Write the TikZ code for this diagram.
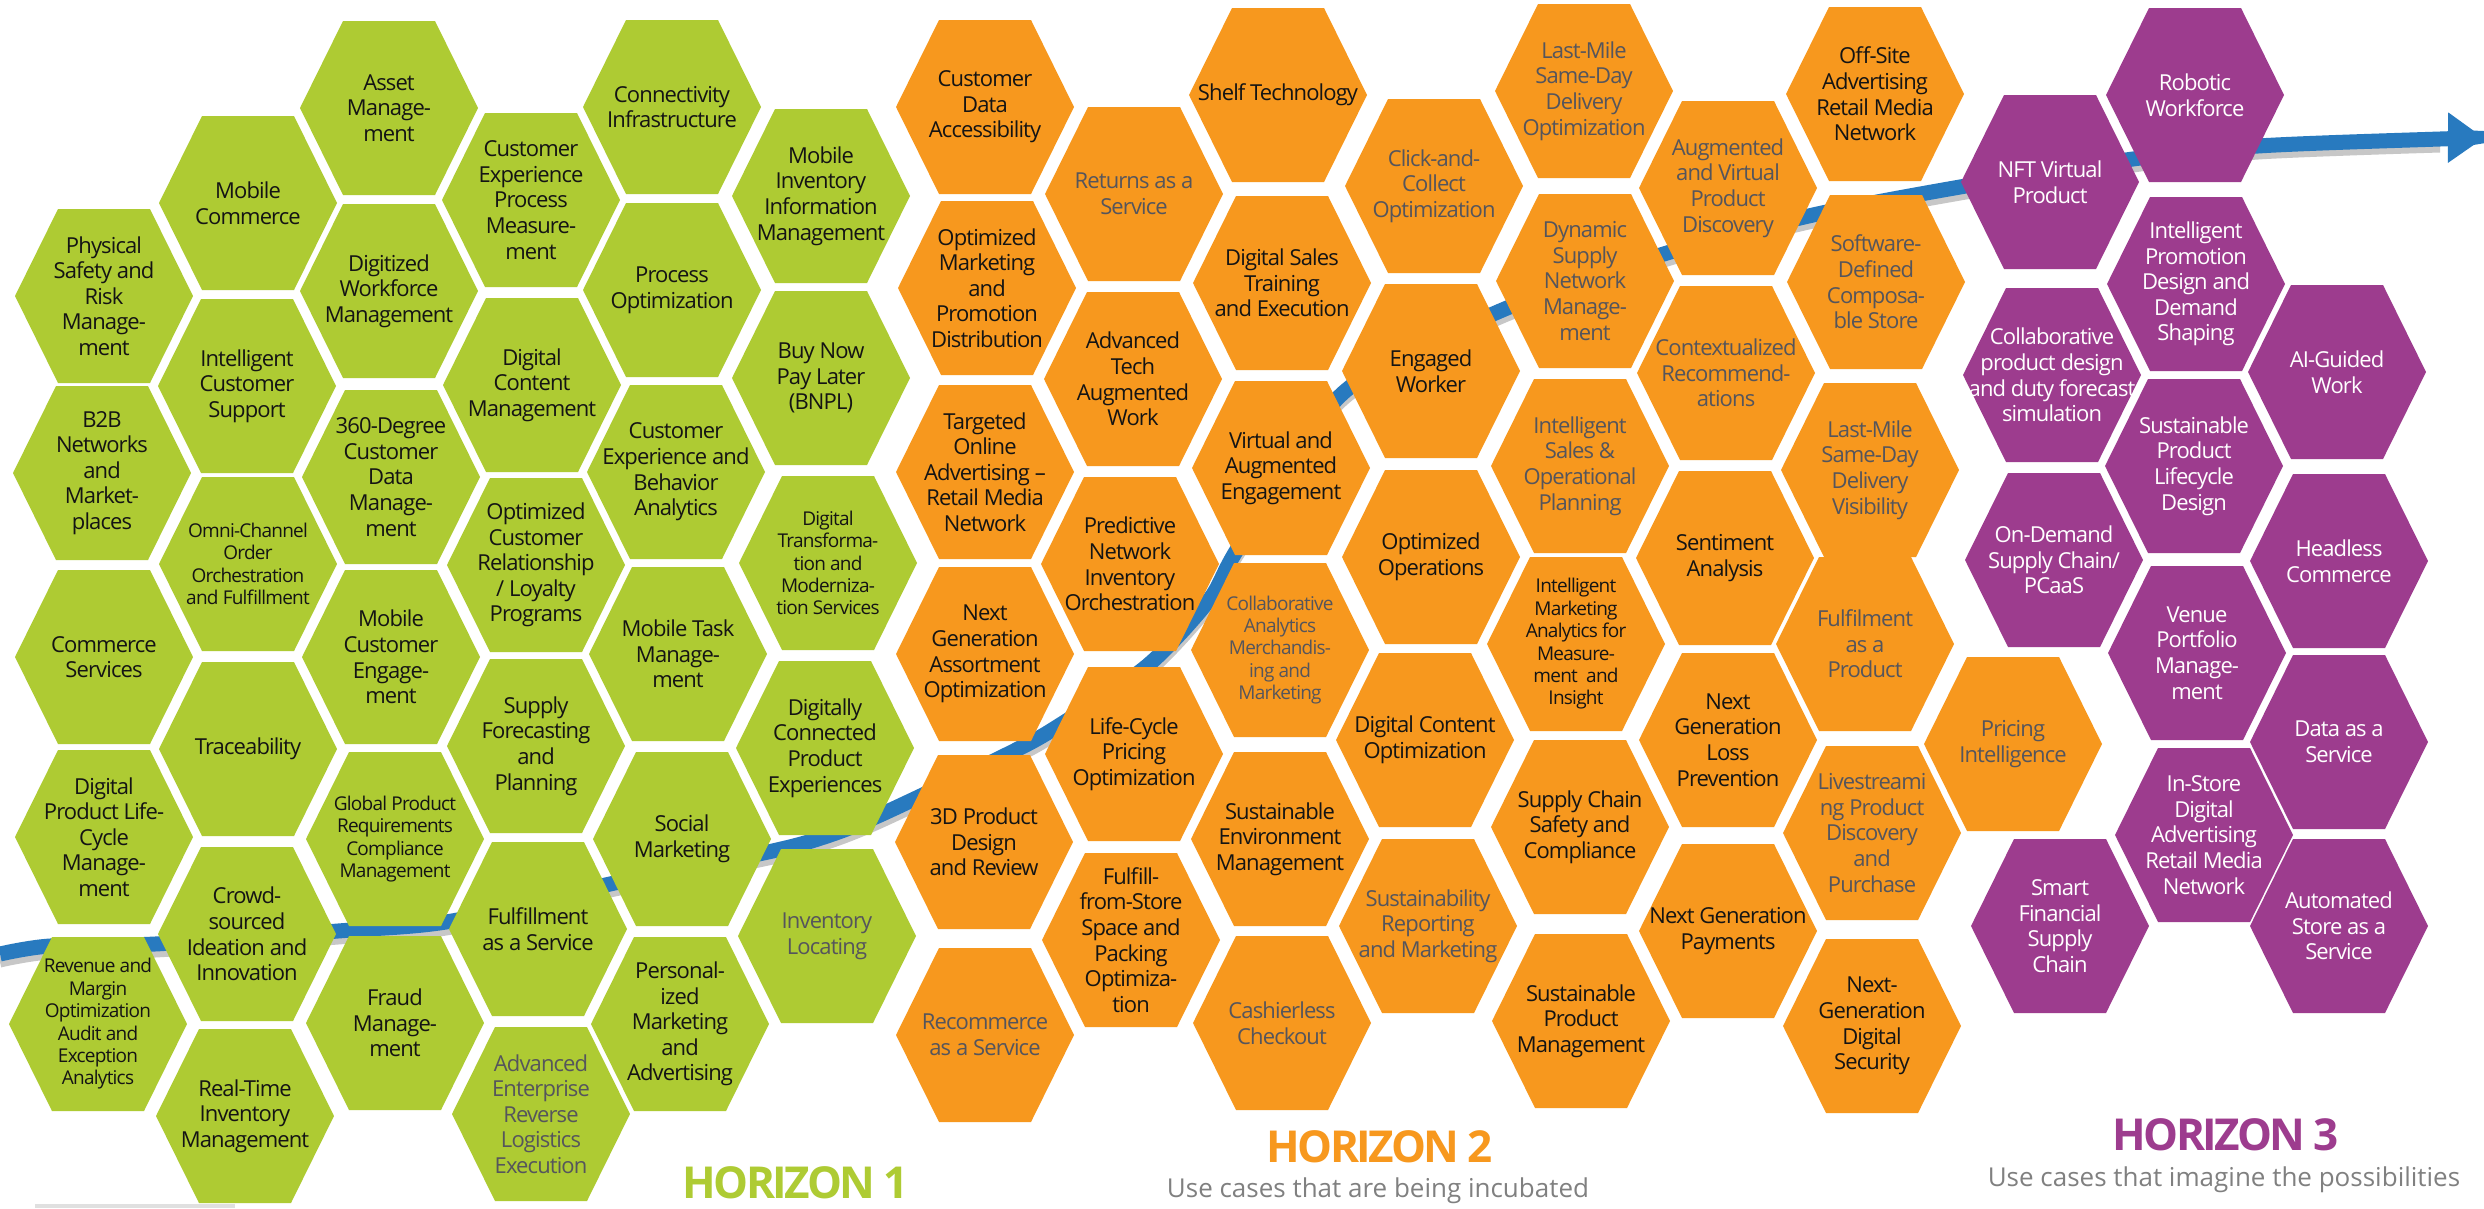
\documentclass[tikz,border=0pt]{standalone}
\usepackage{fontspec}
\setmainfont{Open Sans}
\newfontfamily\cellface[LetterSpace=-4]{Open Sans}
\newfontfamily\headface[LetterSpace=-6]{Open Sans}
\usetikzlibrary{arrows.meta}

\definecolor{hgreen}{RGB}{174,203,51}
\definecolor{horange}{RGB}{247,152,30}
\definecolor{hpurple}{RGB}{157,60,142}
\definecolor{hblue}{RGB}{40,122,191}
\definecolor{dtext}{RGB}{20,20,20}
\definecolor{gtext}{RGB}{85,85,92}
\definecolor{subgrey}{RGB}{128,128,128}

\tikzset{
  cell/.style={align=center, inner sep=0pt, text=dtext,
    font=\cellface\fontsize{22}{25.6}\selectfont},
  smalltxt/.style={font=\cellface\fontsize{19}{22.4}\selectfont},
  dimtxt/.style={text=gtext},
  whitetxt/.style={text=white},
  horizon/.style={font=\headface\bfseries\fontsize{44}{44}\selectfont, anchor=base},
  subline/.style={font=\fontsize{26}{26}\selectfont, text=subgrey, anchor=base},
}

% one honeycomb cell: name, x, y, fill colour, text style, label
\newcommand\hexcell[6]{%
  \fill[#4] ({#2-89},#3) -- ({#2-46},{#3-87}) -- ({#2+46},{#3-87}) --
    ({#2+89},#3) -- ({#2+46},{#3+87}) -- ({#2-46},{#3+87}) -- cycle;
  \node[cell,#5] (#1) at (#2,#3) {#6};
}

\begin{document}
\begin{tikzpicture}[x=1pt,y=-1pt]
\useasboundingbox (0,0) rectangle (2484,1208);
\fill[white] (0,0) rectangle (2484,1208);

% the progression arrow, running behind the cells
\coordinate (flowstart) at (0,954);
\coordinate (flowend) at (2484,138);
\draw[black!22, line width=11pt]
  plot[smooth, tension=0.5] coordinates {(0,962) (50,954) (155,952) (338,939) (452,929)
  (610,892) (768,860) (824,845) (880,823) (1010,761) (1060,733) (1147,674) (1209,608)
  (1240,553) (1343,401) (1500,319) (1667,261) (1813,223) (1960,195) (2133,167)
  (2258,154) (2440,147)};
\draw[hblue, line width=15pt, -{Triangle[length=36pt,width=48pt]}]
  plot[smooth, tension=0.5] coordinates {(flowstart) (50,946) (155,944) (338,931) (452,921)
  (610,884) (768,852) (824,837) (880,815) (1010,753) (1060,725) (1147,666) (1209,600)
  (1240,545) (1343,393) (1500,311) (1667,253) (1813,215) (1960,187) (2133,159)
  (2258,146) (2440,139) (flowend)};

% ---------------- Horizon 1 ----------------
\hexcell{a1}{104}{296}{hgreen}{}{Physical\\Safety and\\Risk\\Manage-\\ment}
\hexcell{a2}{102}{473}{hgreen}{}{B2B\\Networks\\and\\Market-\\places}
\hexcell{a3}{104}{657}{hgreen}{}{Commerce\\Services}
\hexcell{a4}{104}{837}{hgreen}{}{Digital\\Product Life-\\Cycle\\Manage-\\ment}
\hexcell{a5}{98}{1024}{hgreen}{smalltxt}{Revenue and\\Margin\\Optimization\\Audit and\\Exception\\Analytics}

\hexcell{b1}{248}{203}{hgreen}{}{Mobile\\Commerce}
\hexcell{b2}{247}{386}{hgreen}{}{Intelligent\\Customer\\Support}
\hexcell{b3}{248}{564}{hgreen}{smalltxt}{Omni-Channel\\Order\\Orchestration\\and Fulfillment}
\hexcell{b4}{248}{749}{hgreen}{}{Traceability}
\hexcell{b5}{247}{934}{hgreen}{}{Crowd-\\sourced\\Ideation and\\Innovation}
\hexcell{b6}{245}{1116}{hgreen}{}{Real-Time\\Inventory\\Management}

\hexcell{c1}{389}{108}{hgreen}{}{Asset\\Manage-\\ment}
\hexcell{c2}{389}{291}{hgreen}{}{Digitized\\Workforce\\Management}
\hexcell{c3}{391}{477}{hgreen}{}{360-Degree\\Customer\\Data\\Manage-\\ment}
\hexcell{c4}{391}{657}{hgreen}{}{Mobile\\Customer\\Engage-\\ment}
\hexcell{c5}{395}{839}{hgreen}{smalltxt}{Global Product\\Requirements\\Compliance\\Management}
\hexcell{c6}{395}{1023}{hgreen}{}{Fraud\\Manage-\\ment}

\hexcell{d1}{531}{200}{hgreen}{}{Customer\\Experience\\Process\\Measure-\\ment}
\hexcell{d2}{532}{385}{hgreen}{}{Digital\\Content\\Management}
\hexcell{d3}{536}{565}{hgreen}{}{Optimized\\Customer\\Relationship\\/ Loyalty\\Programs}
\hexcell{d4}{536}{746}{hgreen}{}{Supply\\Forecasting\\and\\Planning}
\hexcell{d5}{538}{929}{hgreen}{}{Fulfillment\\as a Service}
\hexcell{d6}{541}{1114}{hgreen}{dimtxt}{Advanced\\Enterprise\\Reverse\\Logistics\\Execution}

\hexcell{e1}{672}{107}{hgreen}{}{Connectivity\\Infrastructure}
\hexcell{e2}{672}{290}{hgreen}{}{Process\\Optimization}
\hexcell{e3}{676}{472}{hgreen}{}{Customer\\Experience and\\Behavior\\Analytics}
\hexcell{e4}{678}{654}{hgreen}{}{Mobile Task\\Manage-\\ment}
\hexcell{e5}{682}{839}{hgreen}{}{Social\\Marketing}
\hexcell{e6}{680}{1024}{hgreen}{}{Personal-\\ized\\Marketing\\and\\Advertising}

\hexcell{f1}{821}{196}{hgreen}{}{Mobile\\Inventory\\Information\\Management}
\hexcell{f2}{821}{378}{hgreen}{}{Buy Now\\Pay Later\\(BNPL)}
\hexcell{f3}{828}{563}{hgreen}{smalltxt}{Digital\\Transforma-\\tion and\\Moderniza-\\tion Services}
\hexcell{f4}{825}{748}{hgreen}{}{Digitally\\Connected\\Product\\Experiences}
\hexcell{f5}{827}{936}{hgreen}{dimtxt}{Inventory\\Locating}

% ---------------- Horizon 2 ----------------
\hexcell{g1}{985}{107}{horange}{}{Customer\\Data\\Accessibility}
\hexcell{g2}{987}{288}{horange}{}{Optimized\\Marketing\\and\\Promotion\\Distribution}
\hexcell{g3}{985}{472}{horange}{}{Targeted\\Online\\Advertising –\\Retail Media\\Network}
\hexcell{g4}{985}{654}{horange}{}{Next\\Generation\\Assortment\\Optimization}
\hexcell{g5}{984}{842}{horange}{}{3D Product\\Design\\and Review}
\hexcell{g6}{985}{1035}{horange}{dimtxt}{Recommerce\\as a Service}

\hexcell{h1}{1134}{194}{horange}{dimtxt}{Returns as a\\Service}
\hexcell{h2}{1133}{379}{horange}{}{Advanced\\Tech\\Augmented\\Work}
\hexcell{h3}{1130}{564}{horange}{}{Predictive\\Network\\Inventory\\Orchestration}
\hexcell{h4}{1134}{754}{horange}{}{Life-Cycle\\Pricing\\Optimization}
\hexcell{h5}{1131}{940}{horange}{}{Fulfill-\\from-Store\\Space and\\Packing\\Optimiza-\\tion}

\hexcell{i1}{1278}{95}{horange}{}{Shelf Technology}
\hexcell{i2}{1282}{283}{horange}{}{Digital Sales\\Training\\and Execution}
\hexcell{i3}{1281}{468}{horange}{}{Virtual and\\Augmented\\Engagement}
\hexcell{i4}{1280}{650}{horange}{smalltxt,dimtxt}{Collaborative\\Analytics\\Merchandis-\\ing and\\Marketing}
\hexcell{i5}{1280}{839}{horange}{}{Sustainable\\Environment\\Management}
\hexcell{i6}{1282}{1023}{horange}{dimtxt}{Cashierless\\Checkout}

\hexcell{j1}{1434}{186}{horange}{dimtxt}{Click-and-\\Collect\\Optimization}
\hexcell{j2}{1431}{371}{horange}{}{Engaged\\Worker}
\hexcell{j3}{1431}{557}{horange}{}{Optimized\\Operations}
\hexcell{j4}{1425}{740}{horange}{}{Digital Content\\Optimization}
\hexcell{j5}{1428}{926}{horange}{dimtxt}{Sustainability\\Reporting\\and Marketing}

\hexcell{k1}{1584}{91}{horange}{dimtxt}{Last-Mile\\Same-Day\\Delivery\\Optimization}
\hexcell{k2}{1585}{281}{horange}{dimtxt}{Dynamic\\Supply\\Network\\Manage-\\ment}
\hexcell{k3}{1580}{466}{horange}{dimtxt}{Intelligent\\Sales \&\\Operational\\Planning}
\hexcell{k4}{1576}{644}{horange}{smalltxt}{Intelligent\\Marketing\\Analytics for\\Measure-\\ment~ and\\Insight}
\hexcell{k5}{1580}{827}{horange}{}{Supply Chain\\Safety and\\Compliance}
\hexcell{k6}{1581}{1021}{horange}{}{Sustainable\\Product\\Management}

\hexcell{l1}{1728}{188}{horange}{dimtxt}{Augmented\\and Virtual\\Product\\Discovery}
\hexcell{l2}{1726}{373}{horange}{dimtxt}{Contextualized\\Recommend-\\ations}
\hexcell{l3}{1725}{558}{horange}{}{Sentiment\\Analysis}
\hexcell{l4}{1728}{740}{horange}{}{Next\\Generation\\Loss\\Prevention}
\hexcell{l5}{1728}{931}{horange}{}{Next Generation\\Payments}

\hexcell{m1}{1875}{94}{horange}{}{Off-Site\\Advertising\\Retail Media\\Network}
\hexcell{m2}{1876}{282}{horange}{dimtxt}{Software-\\Defined\\Composa-\\ble Store}
\hexcell{m3}{1870}{470}{horange}{dimtxt}{Last-Mile\\Same-Day\\Delivery\\Visibility}
\hexcell{m4}{1865}{644}{horange}{dimtxt}{Fulfilment\\as a\\Product}
\hexcell{m5}{1872}{833}{horange}{dimtxt}{Livestreami\\ng Product\\Discovery\\and\\Purchase}
\hexcell{m6}{1872}{1026}{horange}{}{Next-\\Generation\\Digital\\Security}
\hexcell{pi}{2013}{744}{horange}{dimtxt}{Pricing\\Intelligence}

% ---------------- Horizon 3 ----------------
\hexcell{n1}{2050}{182}{hpurple}{whitetxt}{NFT Virtual\\Product}
\hexcell{n2}{2052}{375}{hpurple}{whitetxt}{Collaborative\\product design\\and duty forecast\\simulation}
\hexcell{n3}{2054}{560}{hpurple}{whitetxt}{On-Demand\\Supply Chain/\\PCaaS}
\hexcell{n4}{2060}{926}{hpurple}{whitetxt}{Smart\\Financial\\Supply\\Chain}

\hexcell{o1}{2195}{95}{hpurple}{whitetxt}{Robotic\\Workforce}
\hexcell{o2}{2196}{284}{hpurple}{whitetxt}{Intelligent\\Promotion\\Design and\\Demand\\Shaping}
\hexcell{o3}{2194}{466}{hpurple}{whitetxt}{Sustainable\\Product\\Lifecycle\\Design}
\hexcell{o4}{2197}{653}{hpurple}{whitetxt}{Venue\\Portfolio\\Manage-\\ment}
\hexcell{o5}{2204}{835}{hpurple}{whitetxt}{In-Store\\Digital\\Advertising\\Retail Media\\Network}

\hexcell{p1}{2337}{372}{hpurple}{whitetxt}{AI-Guided\\Work}
\hexcell{p2}{2339}{561}{hpurple}{whitetxt}{Headless\\Commerce}
\hexcell{p3}{2339}{742}{hpurple}{whitetxt}{Data as a\\Service}
\hexcell{p4}{2339}{926}{hpurple}{whitetxt}{Automated\\Store as a\\Service}

% horizon captions
\node[horizon, text=hgreen] (hz1) at (796,1198) {HORIZON 1};
\node[horizon, text=horange] (hz2) at (1380,1162) {HORIZON 2};
\node[subline] (hz2sub) at (1378,1197) {Use cases that are being incubated};
\node[horizon, text=hpurple] (hz3) at (2226,1150) {HORIZON 3};
\node[subline] (hz3sub) at (2224,1186) {Use cases that imagine the possibilities};

% thin rule at the lower left
\draw[black!12, line width=4pt] (35,1206) -- (235,1206);
\end{tikzpicture}
\end{document}
